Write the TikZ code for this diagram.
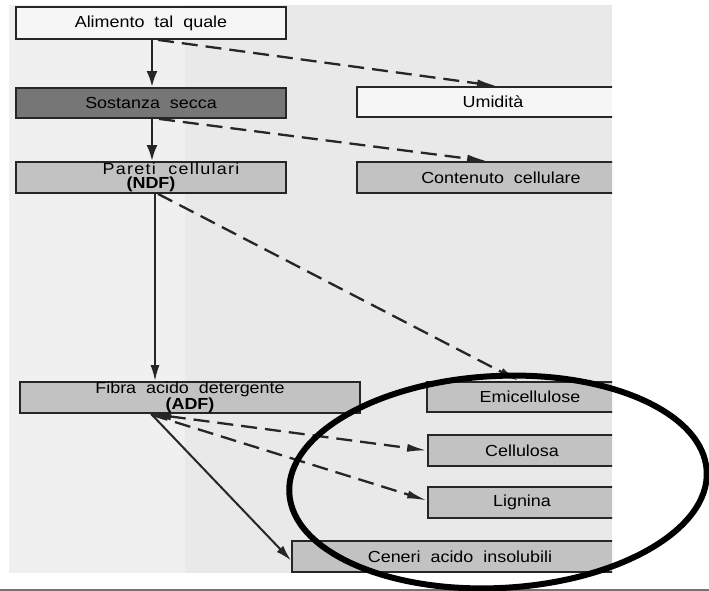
\documentclass[tikz,border=0pt]{standalone}
\usepackage{fontspec}
\setmainfont{Liberation Sans}[FakeStretch=1.12,WordSpace=2]
\usetikzlibrary{arrows.meta,calc}
\definecolor{scanbg}{HTML}{E9E9E9}
\definecolor{scanleft}{HTML}{F0F0F0}
\definecolor{boxline}{HTML}{262626}
\definecolor{darkbox}{HTML}{767676}
\definecolor{lightbox}{HTML}{C2C2C2}
\definecolor{whitebox}{HTML}{F6F6F6}
\definecolor{arrowcol}{HTML}{262626}
\begin{document}
\begin{tikzpicture}[x=1pt,y=-1pt,
  box/.style={draw=boxline, line width=1.8pt, inner sep=0pt, align=center,
    text=black, font=\fontsize{16}{13.5}\selectfont},
  mainarrow/.style={draw=arrowcol, line width=2.8pt, -{Latex[length=16pt,width=11pt]}},
  thinarrow/.style={draw=arrowcol, line width=2pt, -{Latex[length=16pt,width=9pt]}},
  dasharrow/.style={draw=arrowcol, line width=2.3pt, dash pattern=on 16pt off 8pt,
    -{Latex[length=20pt,width=8pt]}},
  bothdash/.style={draw=arrowcol, line width=2.3pt, dash pattern=on 16pt off 8pt,
    {Latex[length=20pt,width=8pt]}-{Latex[length=20pt,width=8pt]}},
  ring/.style={draw=black, line width=6pt}
]
\useasboundingbox (0,0) rectangle (709,591);
\fill[white] (0,0) rectangle (709,591);
\begin{scope}
  \clip (9,5) rectangle (612,573);
  \fill[scanbg] (9,5) rectangle (612,573);
  \fill[scanleft] (9,5) rectangle (185,573);
  % boxes
  \node[box, fill=whitebox, minimum width=270pt, minimum height=32pt] (ali) at (151,23) {Alimento tal quale};
  \node[box, fill=darkbox, minimum width=270pt, minimum height=30pt] (sos) at (151,103) {Sostanza secca};
  \node[box, fill=lightbox, minimum width=270pt, minimum height=31pt] (par) at (151,177.5)
    {\hspace*{40pt}{\addfontfeature{LetterSpace=8}Pareti cellulari}\\\textbf{(NDF)}};
  \node[box, fill=whitebox, minimum width=272pt, minimum height=30pt] (umi) at (493,102) {Umidità};
  \node[box, fill=lightbox, minimum width=288pt, minimum height=31pt] (con) at (501,177.5) {Contenuto cellulare};
  \node[box, fill=lightbox, minimum width=340pt, minimum height=31pt] (adf) at (190,397.5) {Fibra acido detergente\\\textbf{(ADF)}};
  \node[box, fill=lightbox, minimum width=206pt, minimum height=30pt] (emi) at (530,397) {Emicellulose};
  \node[box, fill=lightbox, minimum width=188pt, minimum height=31pt] (cel) at (522,450.5) {Cellulosa};
  \node[box, fill=lightbox, minimum width=188pt, minimum height=31pt] (lig) at (522,502.5) {Lignina};
  \node[box, fill=lightbox, minimum width=336pt, minimum height=31pt] (cen) at (460,556.5) {Ceneri acido insolubili};
  % anchor points
  \coordinate (pa) at ($(par.south)+(4,0)$);
  \coordinate (ad) at ($(adf.south west)+(132,0)$);
  % solid connectors
  \draw[mainarrow] ($(ali.south)+(1,0)$) -- ($(sos.north)+(1,0)$);
  \draw[mainarrow] ($(sos.south)+(1,0)$) -- ($(par.north)+(1,0)$);
  \draw[thinarrow] (pa) -- (pa |- adf.north);
  \draw[thinarrow] (ad) -- ($(cen.west)+(0,4)$);
  % dashed connectors
  \draw[dasharrow] ($(ali.south)+(7,0)$) -- ($(umi.north west)+(141,0)$);
  \draw[dasharrow] ($(sos.south)+(8,0)$) -- ($(con.north west)+(131,0)$);
  \draw[dasharrow] ($(par.south)+(7,0)$) -- ($(emi.north west)+(93,0)$);
  \draw[bothdash] (ad) -- (cel.west);
  \draw[dasharrow] ($(ad)+(1,1)$) -- ($(lig.west)+(0,-2)$);
\end{scope}
\draw[draw=black!55, line width=2pt] (0,589.5) -- (709,589.5);
\draw[ring] (498,482) ellipse [x radius=209, y radius=106, rotate=3];
\end{tikzpicture}
\end{document}
